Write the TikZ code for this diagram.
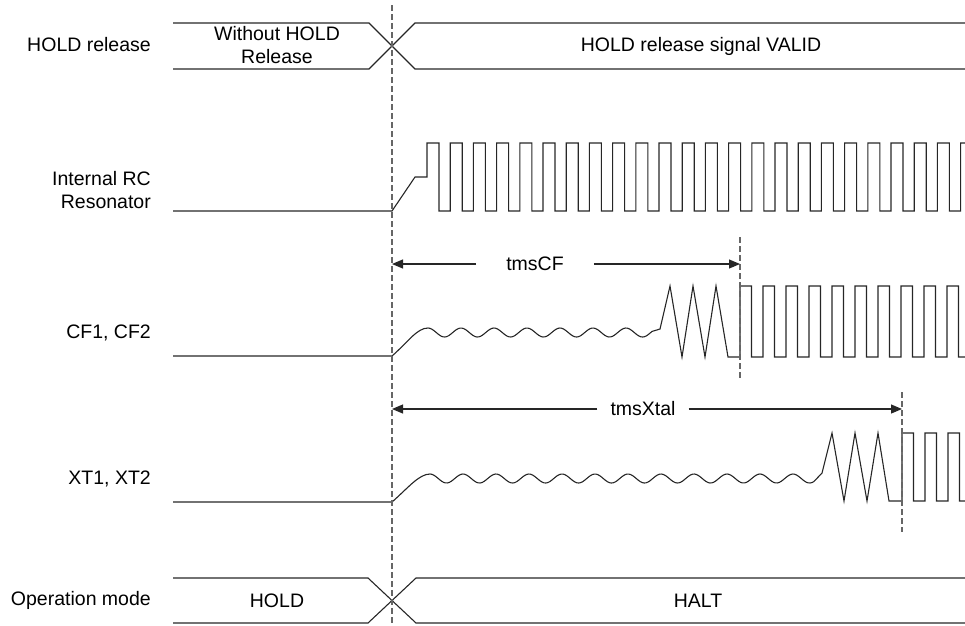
\documentclass[tikz,border=0pt]{standalone}
\usepackage{fontspec}
\setmainfont{Liberation Sans}
\usetikzlibrary{arrows.meta}
\tikzset{
  sig/.style={line width=1.1pt,black!85,line join=miter},
  guide/.style={line width=1.3pt,black!60,dash pattern=on 6pt off 3pt},
  dim/.style={-{Triangle[length=11pt,width=9pt]},line width=1.1pt,black!85},
  siglbl/.style={anchor=east,align=right,inner sep=0pt,
    font=\fontsize{19.5}{23}\selectfont},
  buslbl/.style={align=center,inner sep=0pt,font=\fontsize{19.5}{23}\selectfont},
  dimlbl/.style={inner ysep=2pt,font=\fontsize{19.5}{23}\selectfont},
}

\begin{document}
\begin{tikzpicture}[x=1pt,y=-1pt]
  \useasboundingbox (0,0) rectangle (965,625);
  \clip (0,0) rectangle (965,625);
  % signal names
  \node[siglbl] (nhold) at (151,45) {HOLD release};
  \node[siglbl] (nrc) at (151,190) {Internal RC\\Resonator};
  \node[siglbl] (ncf) at (151,333) {CF1, CF2};
  \node[siglbl] (nxt) at (151,479) {XT1, XT2};
  \node[siglbl] (nmode) at (151,600) {Operation mode};
  % buses
  \draw[sig] (173,23) -- (369,23) -- (415,69) -- (965,69)
             (173,69) -- (369,69) -- (415,23) -- (965,23);
  \node[buslbl] (wo) at (277,45) {Without HOLD\\Release};
  \node[buslbl] (valid) at (701,46) {HOLD release signal VALID};
  \draw[sig] (173,578) -- (368,578) -- (416,623) -- (965,623)
             (173,623) -- (368,623) -- (416,578) -- (965,578);
  \node[buslbl] (hold) at (277,601) {HOLD};
  \node[buslbl] (halt) at (698,601) {HALT};
  % internal RC
  \draw[sig] (173,211) -- (392,211) -- (415,177) -- (427,177) -- (427,143)
    \foreach \k in {0,...,23}{ -- ++(12,0) -- ++(0,68) -- ++(11.2,0) -- ++(0,-68)};
  % CF1, CF2
  \draw[sig] (173,356) -- (392,356) .. controls (408,342) and (417,328) .. (428,328)
    -- plot[domain=428:652,samples=120,smooth] (\x,{332.5-4.5*cos((\x-428)/33*360)})
    -- (660,329) -- (670,286) -- (682,357) -- (693,286) -- (705,357)
    -- (716,286) -- (728,357) -- (740,357)
    \foreach \k in {1,...,10}{ -- ++(0,-71) -- ++(11.5,0) -- ++(0,71) -- ++(11.5,0)};
  % XT1, XT2
  \draw[sig] (173,502) -- (392,502) .. controls (408,488) and (419,474) .. (430,474)
    -- plot[domain=430:814,samples=200,smooth] (\x,{478.5-4.5*cos((\x-430)/33*360)})
    -- (822,473) -- (832,433) -- (844,501) -- (855,433) -- (867,501)
    -- (878,433) -- (889,501) -- (902,501)
    \foreach \k in {1,...,3}{ -- ++(0,-68) -- ++(11.5,0) -- ++(0,68) -- ++(11.5,0)};
  % guides
  \coordinate (g0) at (392,5);
  \coordinate (g1) at (392,625);
  \coordinate (c0) at (740,237);
  \coordinate (c1) at (740,378);
  \coordinate (x0) at (902,392);
  \coordinate (x1) at (902,532);
  \draw[guide] (g0) -- (g1);
  \draw[guide] (c0) -- (c1);
  \draw[guide] (x0) -- (x1);
  % oscillation times
  \coordinate (cfL) at (392,264);
  \coordinate (cfR) at (740,264);
  \node[dimlbl,inner xsep=30pt] (tcf) at (535,264) {tmsCF};
  \draw[dim] (tcf) -- (cfL);
  \draw[dim] (tcf) -- (cfR);
  \coordinate (xtL) at (392,409);
  \coordinate (xtR) at (902,409);
  \node[dimlbl,inner xsep=13pt] (txt) at (643,409) {tmsXtal};
  \draw[dim] (txt) -- (xtL);
  \draw[dim] (txt) -- (xtR);
\end{tikzpicture}
\end{document}
